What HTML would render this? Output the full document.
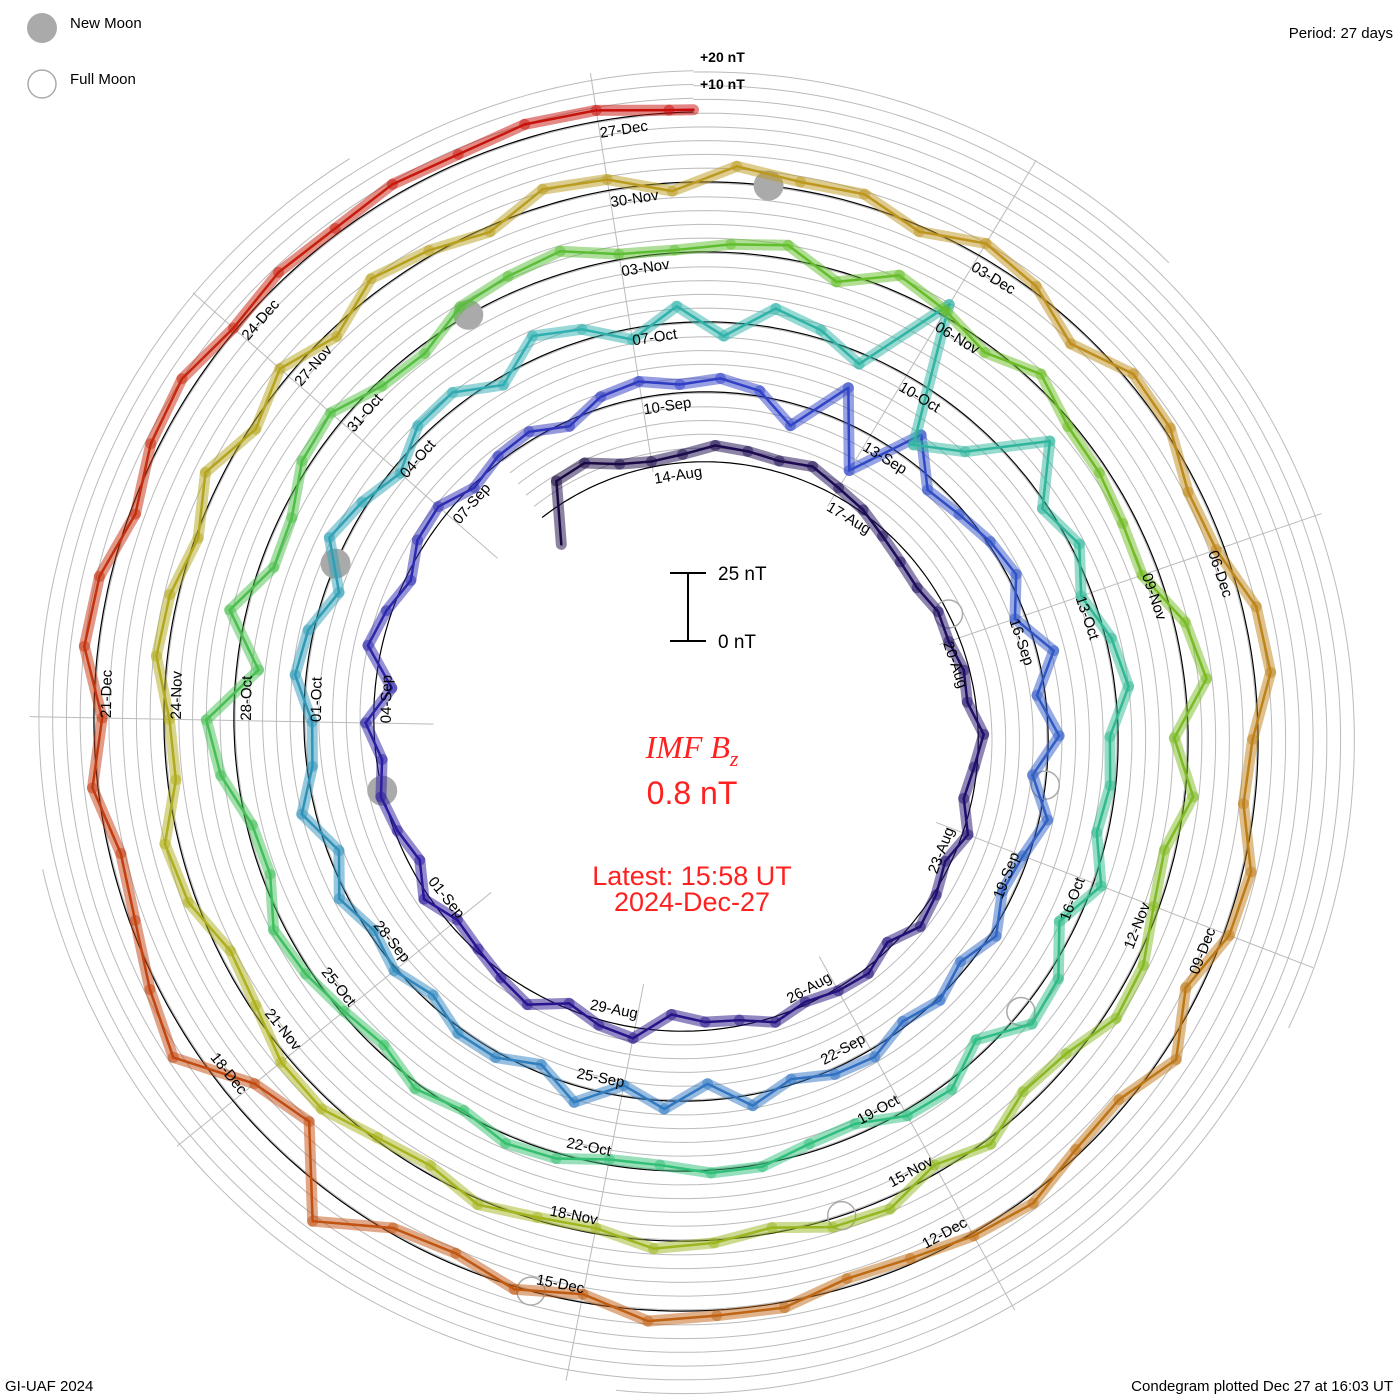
<!DOCTYPE html>
<html><head><meta charset="utf-8"><style>
html,body{margin:0;padding:0;background:#fff;overflow:hidden;width:1400px;height:1400px;}
svg{display:block;font-family:"Liberation Sans",sans-serif;overflow:hidden;}
</style></head><body>
<svg id="chart" width="1400" height="1400" viewBox="0 0 1400 1400" xmlns="http://www.w3.org/2000/svg">
<g id="grid"></g>
<g id="radials"></g>
<g id="baseline"></g>
<g id="moons"></g>
<g id="series"></g>
<g id="dates" font-size="15" fill="#000"></g>

<text x="700" y="62" font-size="14" font-weight="bold">+20 nT</text>
<text x="700" y="89" font-size="14" font-weight="bold">+10 nT</text>

<g stroke="#000" stroke-width="2">
<line x1="688" y1="573" x2="688" y2="641"/><line x1="670" y1="573" x2="706" y2="573"/><line x1="670" y1="641" x2="706" y2="641"/>
</g>
<text x="718" y="580" font-size="19">25 nT</text>
<text x="718" y="648" font-size="19">0 nT</text>

<text x="692" y="758" font-size="32" fill="#ff2020" text-anchor="middle" font-family="Liberation Serif,serif" font-style="italic">IMF B<tspan font-size="22" dy="8">z</tspan></text>
<text x="692" y="804" font-size="32" fill="#ff2020" text-anchor="middle">0.8 nT</text>
<text x="692" y="885" font-size="27" fill="#ff2020" text-anchor="middle">Latest: 15:58 UT</text>
<text x="692" y="911" font-size="27" fill="#ff2020" text-anchor="middle">2024-Dec-27</text>

<circle cx="42" cy="28" r="15" fill="#aaa"/>
<text x="70" y="28" font-size="15">New Moon</text>
<circle cx="42" cy="84" r="14" fill="none" stroke="#aaa" stroke-width="1.5"/>
<text x="70" y="84" font-size="15">Full Moon</text>
<text x="1393" y="38" font-size="15" text-anchor="end">Period: 27 days</text>
<text x="5" y="1391" font-size="15">GI-UAF 2024</text>
<text x="1393" y="1391" font-size="15" text-anchor="end">Condegram plotted Dec 27 at 16:03 UT</text>
</svg>
<script>
// ---- data (IMF Bz, nT), 12-hour samples starting 2024-08-12 00:00 UT ----
const bzValues = [
-12,8, 9,4, 2,3, 6,5, 4,6, 3,1, -2,-4, -5,-3, -4,-2, -3,2, -1,-3, 2,-2, 1,3, -2,2, 1,-1, 2,-2, -3,-6, 4,2, -2,5, 2,-1,
-3,2, -4,-1, 1,-2, 3,-6, 5,2, -2,3, 4,-1, 2,3, -2,4, 6,3, 5,2, -8,12, -15,10, -4,-2, 1,3, -4,6, -3,4, -5,3, -2,-4, 2,-3, 1,-2, 3,2, -2,4, -6,3, -4,6, -3,2, 2,-3, 1,-2, 3,-4, 5,-2,
-3,4, 2,-5, 6,2, -3,4, 5,-3, 8,4, -4,6, -5,7, 3,-4, 30,-20, -10,15, -2,3, -4,2, 5,-3, -2,-4, 3,-6, 4,6, -5,3, 2,-4, -3,1, 1,-2, -2,2, 3,-1, 2,-3, -1,2, 4,-3, -2,6, 10,-8, 6,-5, -4,3, 5,-2,
-3,4, 6,8, 2,1, 3,5, -4,6, 2,-3, 4,-2, -3,-5, -6,4, 8,-5, 3,-4, -2,3, 4,-3, -5,2, -3,4, 3,-2, 1,3, -2,-1, 2,-3, -1,4, 3,-2, -4,3, 5,-3, -2,4, 3,-1, 6,-2, 4,-3, 5,2, -2,6, 4,-3,
6,3, 4,-2, 5,2, -6,3, 2,-4, -3,5, 6,-2, -4,3, 2,-5, 5,-3, -2,3, 1,-2, -3,2, 2,4, -3,1, -4,-2, 12,-15, -10,8, 3,-2, -4,2, -3,5, 4,-2, 3,5, 1,3, 2,4, 3,5, 4,1
];
const latestValue = 0.8;
// new / full moon times (days after 2024-08-12 00:00 UT)
const newMoonDays = [22.08, 51.78, 81.53, 111.26];
const fullMoonDays = [7.6, 37.1, 66.48, 95.9, 125.38];

// ---- geometry ----
const CX = 693.5, CY = 729;
const T_END = 137.67, PERIOD = 27, R_END = 617, TURN = 70, PX_PER_NT = 2.75, R_MAX = 666;
const START = Date.UTC(2024, 7, 12);
const NS = 'http://www.w3.org/2000/svg';
function ang(t){ return 2*Math.PI*(t - T_END)/PERIOD; }
function rad(t){ return R_END - TURN*(T_END - t)/PERIOD; }
function pt(t, off){ const a = ang(t), r = rad(t) + off; return [CX + r*Math.sin(a), CY - r*Math.cos(a)]; }
function spiralPath(t0, t1, off){
  let d = '', n = Math.ceil((t1 - t0)*12), started = false;
  for (let i = 0; i <= n; i++){
    const t = t0 + (t1 - t0)*i/n;
    if (rad(t) + off > R_MAX) break;
    const p = pt(t, off);
    d += (started ? 'L' : 'M') + p[0].toFixed(1) + ',' + p[1].toFixed(1);
    started = true;
  }
  return d;
}
function mk(tag, attrs, parent){ const e = document.createElementNS(NS, tag); for (const k in attrs) e.setAttribute(k, attrs[k]); parent.appendChild(e); return e; }

// grid spirals every 5 nT
const grid = document.getElementById('grid');
for (let n = 1; n <= 12; n++){
  const t0 = n <= 5 ? 0 : T_END - PERIOD;
  const g = mk('path', {d: spiralPath(t0, T_END, n*5*PX_PER_NT), fill:'none', stroke:'#bbb', 'stroke-width':1}, grid);
  
  
}
// radial lines
const radials = document.getElementById('radials');
for (let k = 0; k < 9; k++){
  const a = ang(2 + 3*k);
  const l = mk('line', {x1: CX + 260*Math.sin(a), y1: CY - 260*Math.cos(a), x2: CX + 664*Math.sin(a), y2: CY - 664*Math.cos(a), stroke:'#bbb', 'stroke-width':1}, radials);
  
  
}
// baseline
const bl = mk('path', {d: spiralPath(0, T_END, 0), fill:'none', stroke:'#000', 'stroke-width':1.2}, document.getElementById('baseline'));



// moons
const moons = document.getElementById('moons');
newMoonDays.forEach(t => { const p = pt(t, 0);
  const c = mk('circle', {cx:p[0], cy:p[1], r:15, fill:'#aaa'}, moons);
  
   });
fullMoonDays.forEach(t => { const p = pt(t, 0);
  const c = mk('circle', {cx:p[0], cy:p[1], r:14, fill:'none', stroke:'#aaa', 'stroke-width':1.5}, moons);
  
   });

// colour by time
const stops = [[0,[24,8,64]],[20,[40,20,150]],[30,[48,64,200]],[45,[48,128,192]],[55,[48,176,176]],[70,[48,192,120]],[85,[100,190,40]],[100,[170,180,30]],[112,[190,150,30]],[122,[190,110,20]],[130,[195,60,15]],[137.7,[200,10,10]]];
function colorAt(t){
  for (let i = 1; i < stops.length; i++){ if (t <= stops[i][0]){ const a = stops[i-1], b = stops[i], f = (t - a[0])/(b[0] - a[0]);
    return 'rgb(' + a[1].map((v,j) => Math.round(v + (b[1][j]-v)*f)).join(',') + ')'; } }
  return 'rgb(200,10,10)';
}
// series
const series = document.getElementById('series');
const times = bzValues.map((v,i) => i*0.5).concat([T_END]);
const vals = bzValues.concat([latestValue]);
for (let i = 0; i < vals.length - 1; i++){
  const p0 = pt(times[i], vals[i]*PX_PER_NT), p1 = pt(times[i+1], vals[i+1]*PX_PER_NT);
  const col = colorAt(times[i]);
  const w = mk('line', {x1:p0[0], y1:p0[1], x2:p1[0], y2:p1[1], stroke:col, 'stroke-width':11, 'stroke-opacity':0.5, 'stroke-linecap':'round'}, series);
  
  
  const s = mk('line', {x1:p0[0], y1:p0[1], x2:p1[0], y2:p1[1], stroke:col, 'stroke-width':2.5, 'stroke-linecap':'round'}, series);
  
  
}
// date labels every 3 days
const dates = document.getElementById('dates');
const MON = ['Jan','Feb','Mar','Apr','May','Jun','Jul','Aug','Sep','Oct','Nov','Dec'];
for (let t = 2; t <= 137; t += 3){
  const d = new Date(START + t*86400000);
  const txt = String(d.getUTCDate()).padStart(2,'0') + '-' + MON[d.getUTCMonth()];
  const p = pt(t, -13);
  let deg = ang(t)*180/Math.PI;
  let norm = ((deg % 360) + 360) % 360;
  let anchor = 'start';
  if (norm > 90 && norm < 270){ norm -= 180; anchor = 'end'; }
  const e = mk('text', {x:p[0].toFixed(1), y:p[1].toFixed(1), transform:'rotate(' + norm.toFixed(1) + ' ' + p[0].toFixed(1) + ' ' + p[1].toFixed(1) + ')', 'dominant-baseline':'middle', 'text-anchor':anchor}, dates);
  e.textContent = txt;
  
  
}
</script>
</body></html>
